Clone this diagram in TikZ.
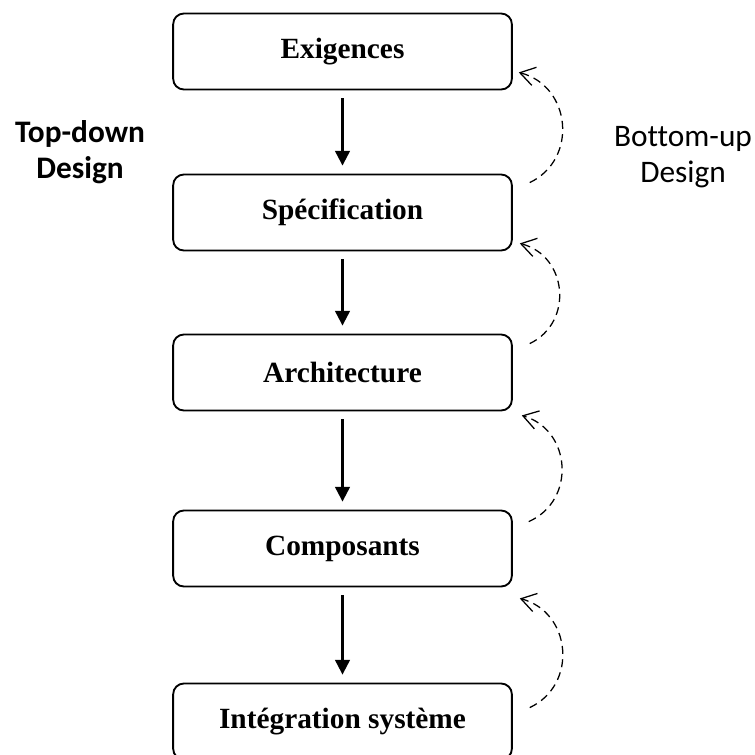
\documentclass[tikz,border=0pt]{standalone}
\usepackage{fontspec}
\setmainfont{Liberation Serif}
\newfontfamily\designfont[Ligatures=NoCommon]{Carlito}
\usetikzlibrary{arrows.meta,calc}
\newcommand\stagefont{\fontsize{22}{24}\selectfont\bfseries}
\newcommand\sidefont{\designfont\fontsize{23.5}{27}\selectfont}

\begin{document}
\begin{tikzpicture}[x=0.75pt,y=-0.75pt,
  stage/.style={draw,line width=1.4pt,rounded corners=8pt,minimum width=254pt,minimum height=57pt,font=\stagefont},
  down/.style={line width=1.6pt,-{Triangle[length=11pt,width=11pt]},shorten <=6pt,shorten >=6pt},
  up/.style={line width=0.95pt,dash pattern=on 6pt off 4pt,-{Straight Barb[length=11pt,width=14pt]},bend right=70,looseness=1.25}]

\useasboundingbox (0,0) rectangle (755,754);

\node[stage] (exig) at (342.5,51.5) {Exigences};
\node[stage] (spec) at (342.5,212.5) {Spécification};
\node[stage] (arch) at (342.5,372.5) {Architecture};
\node[stage] (comp) at (342.5,548.5) {Composants};
\node[stage] (integ) at (342.5,721.5) {Intégration système};

\node[font=\sidefont\bfseries,align=center] (topdown) at (80,152) {Top-down\\Design};
\node[font=\sidefont,align=center] (bottomup) at (683,157) {Bottom-up\\Design};

% top-down
\draw[down] (exig) -- (spec);
\draw[down] (spec) -- (arch);
\draw[down] (arch) -- (comp);
\draw[down] (comp) -- (integ);

% bottom-up
\draw[up] ($(spec.north east)+(17,9)$) to ($(exig.south east)+(6,-18)$);
\draw[up] ($(arch.north east)+(17,10)$) to ($(spec.south east)+(7,-8)$);
\draw[up] ($(comp.north east)+(16,12)$) to ($(arch.south east)+(9,4)$);
\draw[up] ($(integ.north east)+(17,25)$) to ($(comp.south east)+(7,11)$);
\end{tikzpicture}
\end{document}
